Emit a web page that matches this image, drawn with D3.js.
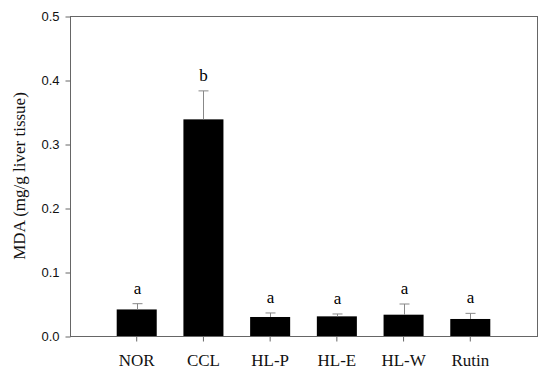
<!DOCTYPE html>
<html>
<head>
<meta charset="utf-8">
<script src="https://cdn.jsdelivr.net/npm/d3@7"></script>
<style>
    body { margin: 0; background: #fff; }
    svg { display: block; }
</style>
</head>
<body>
<svg id="chart" width="550" height="376"></svg>
<script>
// values
let groups = ["NOR", "CCL", "HL-P", "HL-E", "HL-W", "Rutin"];
let mda = [0.0415, 0.3385, 0.0297, 0.0307, 0.0333, 0.0266];
let sem = [0.0090, 0.0445, 0.0063, 0.0037, 0.0167, 0.0088];
let letters = ["a", "b", "a", "a", "a", "a"];
let yTicks = [0, 0.1, 0.2, 0.3, 0.4, 0.5];

let svg = d3.select("#chart");
// plot box ("top" is taken by window.top, so use plot*)
let plotLeft = 70, plotRight = 537, plotTop = 16, plotBottom = 336;
let axisColor = "#666";

let x = d3.scaleBand().domain(groups).range([plotLeft, plotRight]).paddingInner(0.4).paddingOuter(0.7);
let y = d3.scaleLinear().domain([0, 0.5]).range([plotBottom, plotTop]);

// bars
svg.selectAll("rect.bar").data(groups).enter().append("rect")
    .attr("class", "bar")
    .attr("x", d => x(d))
    .attr("width", x.bandwidth())
    .attr("y", (d, i) => y(mda[i]))
    .attr("height", (d, i) => y(0) - y(mda[i]))
    .attr("fill", "#000");

// error bars (upper only) + letters
let err = svg.append("g").attr("stroke", "#888").attr("stroke-width", 1);
groups.forEach(function (g, i) {
    let cx = Math.round(x(g) + x.bandwidth() / 2) + 0.5;
    let capY = y(mda[i] + sem[i]);
    err.append("line").attr("x1", cx).attr("x2", cx).attr("y1", y(mda[i])).attr("y2", capY);
    err.append("line").attr("x1", cx - 5).attr("x2", cx + 5).attr("y1", capY).attr("y2", capY);
    svg.append("text")
        .attr("x", cx)
        .attr("y", capY - 10)
        .attr("text-anchor", "middle")
        .attr("font-family", "Liberation Serif, Times New Roman, serif")
        .attr("font-size", 17)
        .text(letters[i]);
});

// frame
svg.append("rect")
    .attr("x", plotLeft + 0.5).attr("y", plotTop + 0.5)
    .attr("width", plotRight - plotLeft).attr("height", plotBottom - plotTop)
    .attr("fill", "none").attr("stroke", axisColor);

// y axis
let yAxis = svg.append("g")
    .attr("transform", "translate(" + (plotLeft + 0.5) + ",0.5)")
    .call(d3.axisLeft(y).tickValues(yTicks).tickFormat(d3.format(".1f")).tickSize(5).tickPadding(6));
yAxis.select(".domain").remove();
yAxis.selectAll("line").attr("stroke", axisColor);
yAxis.selectAll("text")
    .attr("fill", "#111")
    .attr("font-family", "Liberation Sans, Arial, sans-serif")
    .attr("font-size", 13);

// x axis
let xAxis = svg.append("g")
    .attr("transform", "translate(0," + (plotBottom + 0.5) + ")")
    .call(d3.axisBottom(x).tickSize(5).tickPadding(12));
xAxis.select(".domain").remove();
xAxis.selectAll("line").attr("stroke", axisColor);
xAxis.selectAll("text")
    .attr("fill", "#111")
    .attr("font-family", "Liberation Serif, Times New Roman, serif")
    .attr("font-size", 17);

// y title
svg.append("text")
    .attr("transform", "translate(25," + ((plotTop + plotBottom) / 2) + ") rotate(-90)")
    .attr("text-anchor", "middle")
    .attr("font-family", "Liberation Serif, Times New Roman, serif")
    .attr("font-size", 17)
    .attr("fill", "#111")
    .text("MDA (mg/g liver tissue)");
</script>
</body>
</html>
